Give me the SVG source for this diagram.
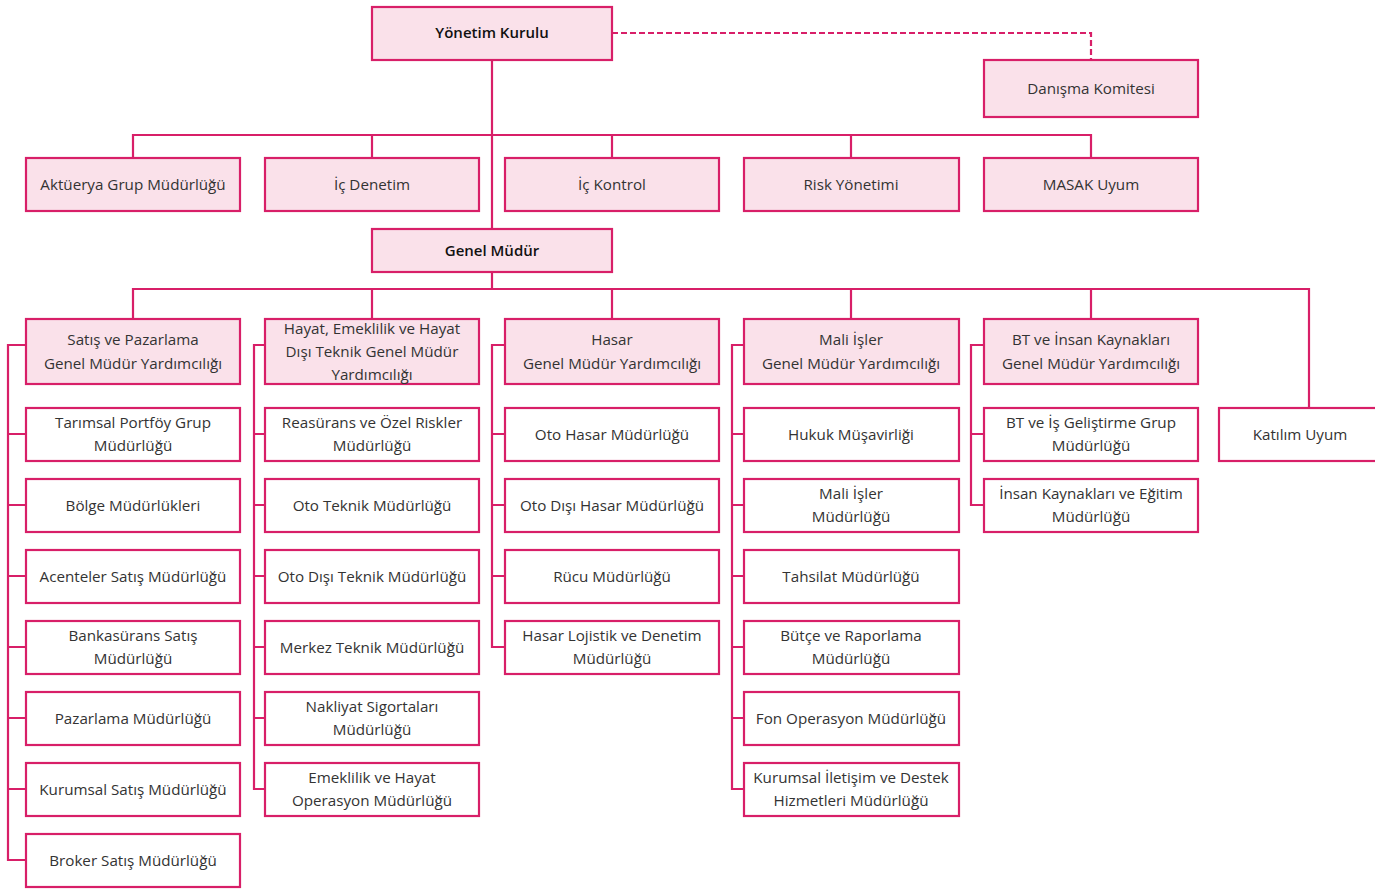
<svg xmlns="http://www.w3.org/2000/svg" width="1375" height="889" viewBox="0 0 1375 889">
<style>
.b{stroke:#D81F68;stroke-width:2.2;}
.p{fill:#FAE1EA;}
.w{fill:#FFFFFF;}
.c{fill:none;stroke:#D81F68;stroke-width:2.2;}
.d{fill:none;stroke:#D81F68;stroke-width:2.2;stroke-dasharray:6,3;}
text{font-family:"Open Sans","Noto Sans","Liberation Sans",sans-serif;font-size:15.2px;fill:#333;text-anchor:middle;dominant-baseline:central;}
.t{font-weight:600;fill:#111;font-size:15px;}
</style>
<rect width="1375" height="889" fill="#fff"/>
<g id="connectors">
<path class="d" d="M612 33H1091V60"/>
<path class="c" d="M492 60V229M133 158V135H1091V158M372 135V158M612 135V158M851 135V158"/>
<path class="c" d="M492 272V289M133 319V289H1309V408M372 289V319M612 289V319M851 289V319M1091 289V319"/>
<path class="c" d="M26 345H8V860H26M8 434H26M8 505H26M8 576H26M8 647H26M8 718H26M8 789H26"/>
<path class="c" d="M265 345H254V789H265M254 434H265M254 505H265M254 576H265M254 647H265M254 718H265"/>
<path class="c" d="M505 345H492V647H505M492 434H505M492 505H505M492 576H505"/>
<path class="c" d="M744 345H732V789H744M732 434H744M732 505H744M732 576H744M732 647H744M732 718H744"/>
<path class="c" d="M984 345H971V505H984M971 434H984"/>
</g>
<g id="yonetim"><rect class="b p" x="372" y="7" width="240" height="53"/><text class="t" x="492" y="32">Yönetim Kurulu</text></g>
<g id="danisma"><rect class="b p" x="984" y="60" width="214" height="57"/><text x="1091" y="88">Danışma Komitesi</text></g>
<g id="aktuerya"><rect class="b p" x="26" y="158" width="214" height="53"/><text x="133" y="184">Aktüerya Grup Müdürlüğü</text></g>
<g id="icdenetim"><rect class="b p" x="265" y="158" width="214" height="53"/><text x="372" y="184">İç Denetim</text></g>
<g id="ickontrol"><rect class="b p" x="505" y="158" width="214" height="53"/><text x="612" y="184">İç Kontrol</text></g>
<g id="risk"><rect class="b p" x="744" y="158" width="215" height="53"/><text x="851" y="184">Risk Yönetimi</text></g>
<g id="masak"><rect class="b p" x="984" y="158" width="214" height="53"/><text x="1091" y="184">MASAK Uyum</text></g>
<g id="genelmudur"><rect class="b p" x="372" y="229" width="240" height="43"/><text class="t" x="492" y="250">Genel Müdür</text></g>
<g id="satis"><rect class="b p" x="26" y="319" width="214" height="65"/><text x="133" y="339">Satış ve Pazarlama</text><text x="133" y="363">Genel Müdür Yardımcılığı</text></g>
<g id="hayat"><rect class="b p" x="265" y="319" width="214" height="65"/><text x="372" y="328">Hayat, Emeklilik ve Hayat</text><text x="372" y="351">Dışı Teknik Genel Müdür</text><text x="372" y="374">Yardımcılığı</text></g>
<g id="hasar"><rect class="b p" x="505" y="319" width="214" height="65"/><text x="612" y="339">Hasar</text><text x="612" y="363">Genel Müdür Yardımcılığı</text></g>
<g id="mali"><rect class="b p" x="744" y="319" width="215" height="65"/><text x="851" y="339">Mali İşler</text><text x="851" y="363">Genel Müdür Yardımcılığı</text></g>
<g id="bt"><rect class="b p" x="984" y="319" width="214" height="65"/><text x="1091" y="339">BT ve İnsan Kaynakları</text><text x="1091" y="363">Genel Müdür Yardımcılığı</text></g>
<g id="katilim"><rect class="b w" x="1219" y="408" width="160" height="53"/><text x="1300" y="434">Katılım Uyum</text></g>
<g id="tarimsal"><rect class="b w" x="26" y="408" width="214" height="53"/><text x="133" y="422">Tarımsal Portföy Grup</text><text x="133" y="445">Müdürlüğü</text></g>
<g id="bolge"><rect class="b w" x="26" y="479" width="214" height="53"/><text x="133" y="505">Bölge Müdürlükleri</text></g>
<g id="acenteler"><rect class="b w" x="26" y="550" width="214" height="53"/><text x="133" y="576">Acenteler Satış Müdürlüğü</text></g>
<g id="bankasurans"><rect class="b w" x="26" y="621" width="214" height="53"/><text x="133" y="635">Bankasürans Satış</text><text x="133" y="658">Müdürlüğü</text></g>
<g id="pazarlama"><rect class="b w" x="26" y="692" width="214" height="53"/><text x="133" y="718">Pazarlama Müdürlüğü</text></g>
<g id="kurumsalsatis"><rect class="b w" x="26" y="763" width="214" height="53"/><text x="133" y="789">Kurumsal Satış Müdürlüğü</text></g>
<g id="broker"><rect class="b w" x="26" y="834" width="214" height="53"/><text x="133" y="860">Broker Satış Müdürlüğü</text></g>
<g id="reasurans"><rect class="b w" x="265" y="408" width="214" height="53"/><text x="372" y="422">Reasürans ve Özel Riskler</text><text x="372" y="445">Müdürlüğü</text></g>
<g id="ototeknik"><rect class="b w" x="265" y="479" width="214" height="53"/><text x="372" y="505">Oto Teknik Müdürlüğü</text></g>
<g id="otodisiteknik"><rect class="b w" x="265" y="550" width="214" height="53"/><text x="372" y="576">Oto Dışı Teknik Müdürlüğü</text></g>
<g id="merkezteknik"><rect class="b w" x="265" y="621" width="214" height="53"/><text x="372" y="647">Merkez Teknik Müdürlüğü</text></g>
<g id="nakliyat"><rect class="b w" x="265" y="692" width="214" height="53"/><text x="372" y="706">Nakliyat Sigortaları</text><text x="372" y="729">Müdürlüğü</text></g>
<g id="emeklilik"><rect class="b w" x="265" y="763" width="214" height="53"/><text x="372" y="777">Emeklilik ve Hayat</text><text x="372" y="800">Operasyon Müdürlüğü</text></g>
<g id="otohasar"><rect class="b w" x="505" y="408" width="214" height="53"/><text x="612" y="434">Oto Hasar Müdürlüğü</text></g>
<g id="otodisihasar"><rect class="b w" x="505" y="479" width="214" height="53"/><text x="612" y="505">Oto Dışı Hasar Müdürlüğü</text></g>
<g id="rucu"><rect class="b w" x="505" y="550" width="214" height="53"/><text x="612" y="576">Rücu Müdürlüğü</text></g>
<g id="hasarlojistik"><rect class="b w" x="505" y="621" width="214" height="53"/><text x="612" y="635">Hasar Lojistik ve Denetim</text><text x="612" y="658">Müdürlüğü</text></g>
<g id="hukuk"><rect class="b w" x="744" y="408" width="215" height="53"/><text x="851" y="434">Hukuk Müşavirliği</text></g>
<g id="maliisler"><rect class="b w" x="744" y="479" width="215" height="53"/><text x="851" y="493">Mali İşler</text><text x="851" y="516">Müdürlüğü</text></g>
<g id="tahsilat"><rect class="b w" x="744" y="550" width="215" height="53"/><text x="851" y="576">Tahsilat Müdürlüğü</text></g>
<g id="butce"><rect class="b w" x="744" y="621" width="215" height="53"/><text x="851" y="635">Bütçe ve Raporlama</text><text x="851" y="658">Müdürlüğü</text></g>
<g id="fon"><rect class="b w" x="744" y="692" width="215" height="53"/><text x="851" y="718">Fon Operasyon Müdürlüğü</text></g>
<g id="kurumsaliletisim"><rect class="b w" x="744" y="763" width="215" height="53"/><text x="851" y="777">Kurumsal İletişim ve Destek</text><text x="851" y="800">Hizmetleri Müdürlüğü</text></g>
<g id="btis"><rect class="b w" x="984" y="408" width="214" height="53"/><text x="1091" y="422">BT ve İş Geliştirme Grup</text><text x="1091" y="445">Müdürlüğü</text></g>
<g id="insan"><rect class="b w" x="984" y="479" width="214" height="53"/><text x="1091" y="493">İnsan Kaynakları ve Eğitim</text><text x="1091" y="516">Müdürlüğü</text></g>
</svg>
